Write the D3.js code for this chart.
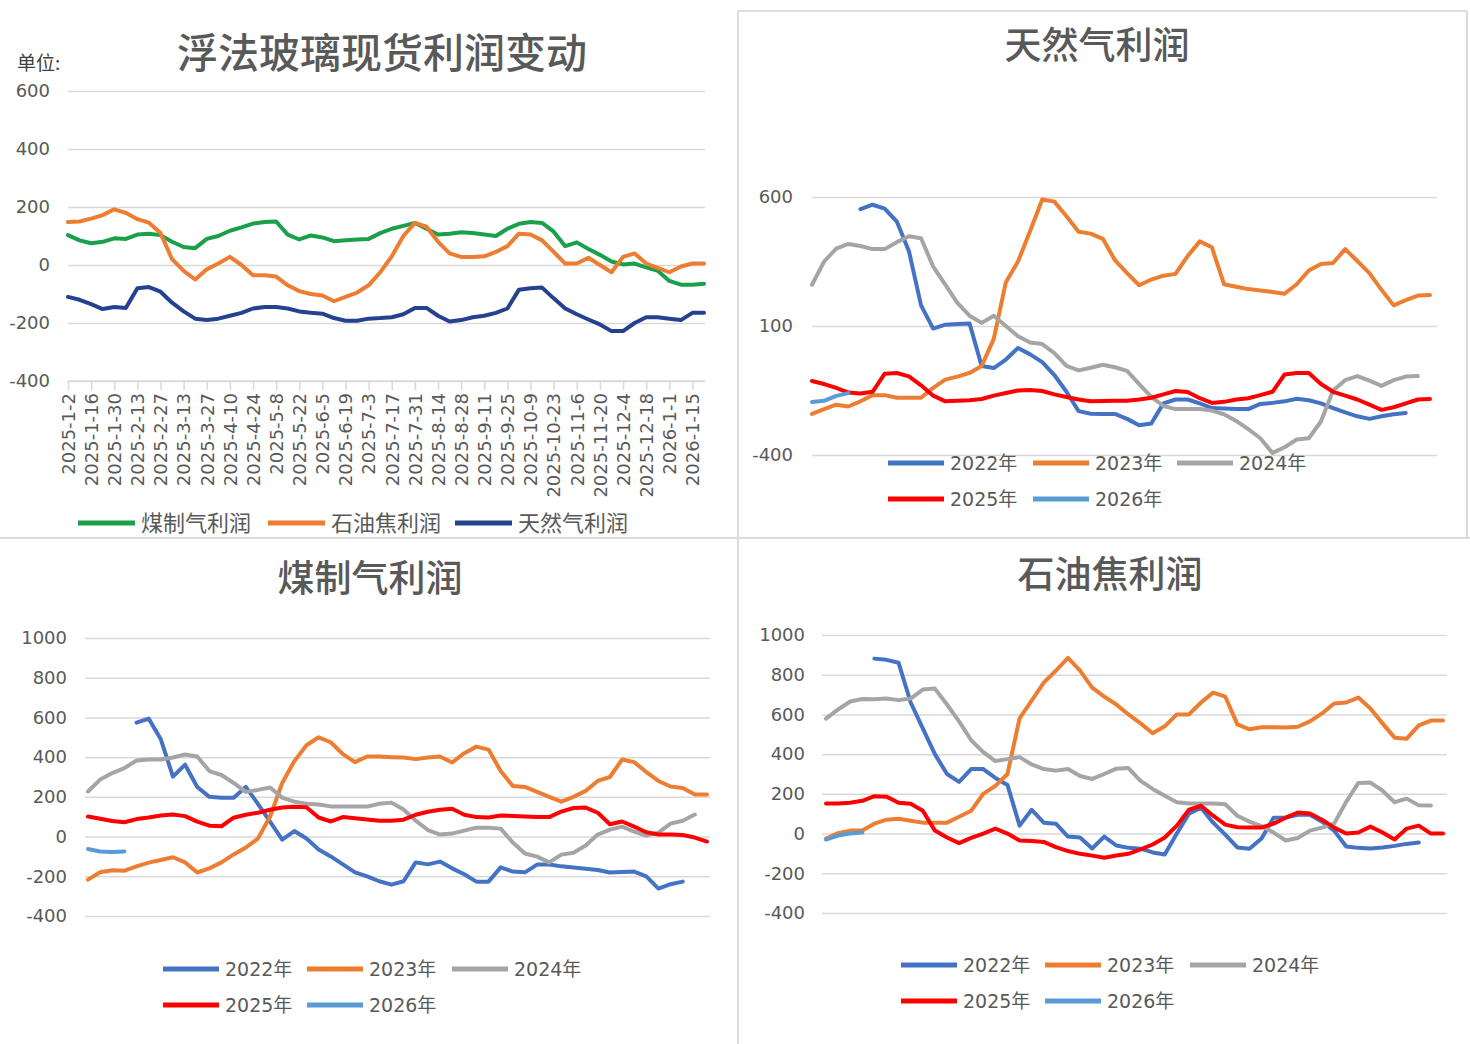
<!DOCTYPE html>
<html><head><meta charset="utf-8">
<script src="https://cdn.jsdelivr.net/npm/d3@7/dist/d3.min.js"></script>
<style>body{margin:0;background:#fff;} svg{display:block;}</style>
</head><body>
<svg id="c" width="1470" height="1044"></svg>
<script>
// ---------- Panel A: 浮法玻璃现货利润变动 (weekly, 2025-1-2 .. 2026-1-22) ----------
const tickLabelsA = ["2025-1-2","2025-1-16","2025-1-30","2025-2-13","2025-2-27","2025-3-13","2025-3-27","2025-4-10","2025-4-24","2025-5-8","2025-5-22","2025-6-5","2025-6-19","2025-7-3","2025-7-17","2025-7-31","2025-8-14","2025-8-28","2025-9-11","2025-9-25","2025-10-9","2025-10-23","2025-11-6","2025-11-20","2025-12-4","2025-12-18","2026-1-1","2026-1-15"];
const coalGasA = [103,85,75,80,92,90,105,108,103,80,62,58,90,100,118,130,143,148,150,105,88,102,95,82,85,88,90,110,125,135,145,125,105,108,113,110,105,100,125,142,148,145,115,65,78,55,35,12,2,5,-8,-20,-55,-68,-68,-65];
const petCokeA = [148,150,160,172,192,180,158,146,110,20,-20,-50,-15,5,28,0,-35,-35,-40,-70,-90,-100,-105,-125,-110,-95,-70,-25,30,100,145,132,80,40,28,28,30,45,65,108,105,85,45,5,5,25,0,-25,28,40,5,-10,-25,-5,5,5];
const natGasA = [-110,-120,-135,-152,-145,-148,-80,-76,-92,-130,-160,-185,-190,-185,-175,-165,-150,-145,-145,-150,-160,-165,-168,-183,-192,-192,-185,-183,-180,-170,-148,-148,-175,-195,-190,-180,-175,-165,-150,-85,-80,-78,-115,-150,-170,-188,-205,-228,-228,-200,-180,-180,-185,-190,-165,-165];
const seriesNamesA = ["煤制气利润","石油焦利润","天然气利润"];
const yTicksA = [-400,-200,0,200,400,600];

// ---------- Seasonal panels (week index 0..51) ----------
const yearNames = ["2022年","2023年","2024年","2025年","2026年"];
const N = null;
// 天然气利润
const gas2022 = [N,N,N,N,553,570,555,505,390,180,90,105,108,110,-55,-63,-30,15,-10,-40,-90,-155,-230,-240,-241,-241,-260,-285,-278,-200,-185,-185,-200,-218,-220,-222,-222,-202,-198,-192,-182,-188,-200,-218,-235,-250,-260,-250,-242,-237];
const gas2023 = [-241,-222,-205,-212,-192,-168,-168,-178,-178,-178,-140,-108,-96,-82,-55,50,270,350,468,590,582,525,465,458,438,355,305,258,280,295,302,371,428,405,262,252,243,238,232,225,262,315,340,344,398,352,305,240,180,200,218,220];
const gas2024 = [260,350,400,418,410,398,398,425,448,440,330,260,190,140,112,140,100,60,36,30,-5,-55,-72,-62,-50,-60,-74,-125,-175,-210,-222,-222,-222,-228,-242,-268,-300,-335,-392,-370,-340,-335,-270,-150,-110,-94,-112,-132,-110,-96,-94];
const gas2025 = [-113,-125,-140,-158,-162,-155,-85,-82,-95,-130,-170,-192,-190,-188,-183,-170,-160,-150,-148,-152,-165,-175,-185,-192,-191,-190,-190,-185,-178,-165,-152,-156,-180,-198,-194,-185,-180,-168,-155,-88,-82,-82,-125,-155,-170,-185,-205,-225,-215,-200,-185,-183];
const gas2026 = [-195,-190,-171,-160];
const yTicksGas = [-400,100,600];
// 煤制气利润
const coal2022 = [N,N,N,N,574,594,490,302,362,250,200,196,196,250,165,75,-15,28,-10,-65,-100,-140,-180,-200,-225,-242,-225,-130,-140,-126,-160,-190,-227,-227,-155,-176,-180,-141,-141,-150,-156,-162,-168,-181,-178,-176,-200,-262,-240,-227];
const coal2023 = [-217,-180,-170,-172,-150,-131,-118,-104,-130,-181,-160,-130,-90,-55,-10,100,270,380,460,500,475,415,375,403,403,400,398,390,398,403,373,420,453,438,330,255,250,225,200,176,200,230,280,300,388,375,325,280,252,245,212,212];
const coal2024 = [227,287,320,345,383,388,388,398,413,403,330,310,270,225,235,247,196,176,165,161,152,151,151,151,165,171,136,80,33,10,15,30,45,45,40,-30,-85,-101,-130,-91,-81,-45,10,35,50,25,5,20,65,80,111];
const coal2025 = [101,90,78,72,88,96,106,111,103,75,55,52,95,110,120,135,146,150,148,96,76,98,92,86,80,80,85,110,125,135,140,110,98,96,106,104,101,98,98,126,144,146,120,62,76,50,22,10,10,8,-5,-25];
const coal2026 = [-63,-75,-78,-75];
const yTicksWide = [-400,-200,0,200,400,600,800,1000];
// 石油焦利润
const coke2022 = [N,N,N,N,881,875,860,660,530,400,300,260,325,325,280,245,40,120,55,50,-15,-20,-75,-15,-60,-72,-76,-95,-105,0,100,130,55,-5,-70,-76,-25,80,81,95,95,60,15,-65,-72,-75,-70,-62,-52,-45];
const coke2023 = [-25,2,15,15,50,70,75,65,55,55,55,85,115,200,240,300,580,670,760,820,885,821,735,690,650,600,555,505,540,600,600,660,710,690,550,525,535,535,534,538,565,605,655,660,685,630,555,483,478,545,569,570];
const coke2024 = [579,625,665,678,676,680,672,680,725,730,650,565,470,410,365,375,385,348,325,317,325,290,275,300,327,330,265,225,190,158,152,151,151,148,90,60,38,5,-35,-22,15,30,50,160,255,257,216,158,176,142,141];
const coke2025 = [151,151,155,165,188,186,155,150,115,15,-20,-48,-22,0,25,0,-35,-38,-42,-68,-88,-102,-111,-122,-110,-102,-80,-55,-20,40,120,140,90,45,32,30,30,50,80,106,101,70,30,0,5,35,5,-30,25,40,0,0];
const coke2026 = [-30,-10,0,5];

// ---------- drawing ----------
const svg = d3.select("#c");
const NUMF = "'DejaVu Sans','Noto Sans CJK SC',sans-serif";
const CJKF = "'Noto Sans CJK SC','DejaVu Sans',sans-serif";
const GRID = "#d9d9d9", TXT = "#595959";
const yearColors = ["#4472c4","#ed7d31","#a5a5a5","#ff0000","#5b9bd5"];
const colorsA = ["#1a9f4b","#ed7d31","#24428f"];

// panel borders
const bord = svg.append("g").attr("stroke","#dcdcdc").attr("stroke-width",2).attr("fill","none");
bord.append("line").attr("x1",738).attr("y1",11).attr("x2",738).attr("y2",1044);
bord.append("line").attr("x1",0).attr("y1",538).attr("x2",1470).attr("y2",538);
bord.append("line").attr("x1",738).attr("y1",11).attr("x2",1467).attr("y2",11);
bord.append("line").attr("x1",1467).attr("y1",11).attr("x2",1467).attr("y2",538);

function yAxis(g, y, ticks, gx0, gx1, labelRight){
  const ax = d3.axisLeft(y).tickValues(ticks).tickSize(-(gx1-gx0)).tickPadding(gx0-labelRight)
    .tickFormat(d => String(d));
  const a = g.append("g").attr("transform",`translate(${gx0},0)`).call(ax);
  a.select(".domain").remove();
  a.selectAll(".tick line").attr("stroke",GRID).attr("stroke-width",1.5);
  a.selectAll(".tick text").attr("fill",TXT).style("font-family",NUMF).style("font-size","18px");
}
function title(text, cx, cy, size){
  svg.append("text").attr("x",cx).attr("y",cy).attr("text-anchor","middle")
    .style("font-family",CJKF).style("font-size",size+"px").style("font-weight","500")
    .attr("fill",TXT).text(text);
}
function legendItem(x, y, color, label, fontFamily, fs, len){
  svg.append("line").attr("x1",x).attr("x2",x+len).attr("y1",y).attr("y2",y)
    .attr("stroke",color).attr("stroke-width",5);
  svg.append("text").attr("x",x+len+6).attr("y",y).attr("dy","0.36em")
    .style("font-family",fontFamily).style("font-size",fs+"px").attr("fill",TXT).text(label);
}
function drawLine(g, data, x, y, color){
  const line = d3.line().defined(d=>d!=null).x((d,i)=>x(i)).y(d=>y(d));
  g.append("path").datum(data).attr("d",line).attr("fill","none")
    .attr("stroke",color).attr("stroke-width",4).attr("stroke-linejoin","round").attr("stroke-linecap","round");
}

// Panel A
(function(){
  const g = svg.append("g");
  const x = d3.scaleLinear().domain([0,55]).range([68,704]);
  const y = d3.scaleLinear().domain([-400,600]).range([381,91]);
  yAxis(g, y, yTicksA, 68, 705, 50);
  const tickIdx = tickLabelsA.map((d,i)=>i*2);
  const ax = d3.axisBottom(x).tickValues(tickIdx).tickSize(9).tickFormat((d,i)=>tickLabelsA[i]);
  const a = g.append("g").attr("transform","translate(0,381)").call(ax);
  a.select(".domain").attr("stroke",GRID).attr("stroke-width",1.5).attr("d","M68,0H705");
  a.selectAll(".tick line").attr("stroke",GRID).attr("stroke-width",1.5);
  a.selectAll(".tick text").attr("transform","rotate(-90)").attr("text-anchor","end")
    .attr("x",-12).attr("y",0).attr("dy","0.35em").attr("fill",TXT)
    .style("font-family",NUMF).style("font-size","18px");
  [coalGasA, petCokeA, natGasA].forEach((s,i)=>drawLine(g, s, x, y, colorsA[i]));
  title("浮法玻璃现货利润变动", 382, 68, 41);
  svg.append("text").attr("x",17).attr("y",70).style("font-family",CJKF).style("font-size","19px")
    .attr("fill","#404040").text("单位:");
  const lx = [78, 268, 455];
  seriesNamesA.forEach((n,i)=>legendItem(lx[i], 523, colorsA[i], n, CJKF, 22, 57));
})();

function seasonal(cfg){
  const g = svg.append("g");
  const x = d3.scaleLinear().domain([0,51]).range([cfg.x0, cfg.x1]);
  const y = d3.scaleLinear().domain(cfg.yDom).range(cfg.yRange);
  yAxis(g, y, cfg.ticks, cfg.gx0, cfg.gx1, cfg.labelRight);
  cfg.series.forEach((s,i)=>drawLine(g, s, x, y, yearColors[i]));
  title(cfg.title, cfg.tx, cfg.ty, 37);
  yearNames.forEach((n,i)=>{
    const col = i%3, row = Math.floor(i/3);
    legendItem(cfg.lx[col], cfg.ly[row], yearColors[i], n, NUMF, 19, 56);
  });
}

seasonal({title:"天然气利润", tx:1097, ty:59, x0:812, x1:1430, gx0:812, gx1:1437, labelRight:793,
  yDom:[-400,600], yRange:[455,197], ticks:yTicksGas,
  series:[gas2022,gas2023,gas2024,gas2025,gas2026], lx:[888,1033,1177], ly:[463,499]});
seasonal({title:"煤制气利润", tx:370, ty:592, x0:88, x1:707, gx0:85, gx1:710, labelRight:67,
  yDom:[-400,1000], yRange:[916,638], ticks:yTicksWide,
  series:[coal2022,coal2023,coal2024,coal2025,coal2026], lx:[163,307,452], ly:[969,1005]});
seasonal({title:"石油焦利润", tx:1110, ty:588, x0:826, x1:1443, gx0:822, gx1:1447, labelRight:805,
  yDom:[-400,1000], yRange:[913,635], ticks:yTicksWide,
  series:[coke2022,coke2023,coke2024,coke2025,coke2026], lx:[901,1045,1190], ly:[965,1001]});
</script>
</body></html>
